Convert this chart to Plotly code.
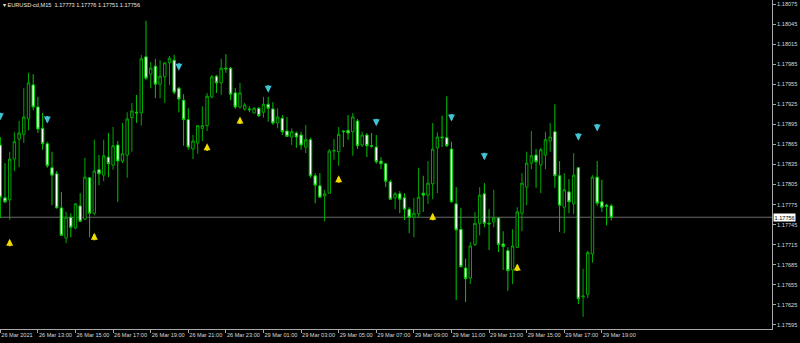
import datetime as dt
import plotly.graph_objects as go

# ---------------- data (EURUSD-cd, M15) ----------------
opens = [1.17864, 1.17785, 1.17782, 1.17843, 1.17873, 1.17880, 1.17903, 1.17954, 1.17921, 1.17889,
         1.17866, 1.17830, 1.17821, 1.17770, 1.17725, 1.17756, 1.17740, 1.17773, 1.17753, 1.17815,
         1.17762, 1.17827, 1.17819, 1.17846, 1.17834, 1.17864, 1.17840, 1.17849, 1.17905, 1.17913,
         1.17912, 1.17996, 1.17970, 1.17982, 1.17955, 1.17966, 1.17987, 1.17991, 1.17949, 1.17931,
         1.17902, 1.17858, 1.17867, 1.17889, 1.17893, 1.17936, 1.17967, 1.17957, 1.17979, 1.17979,
         1.17942, 1.17921, 1.17918, 1.17918, 1.17912, 1.17919, 1.17913, 1.17925, 1.17918, 1.17897,
         1.17904, 1.17885, 1.17876, 1.17882, 1.17879, 1.17861, 1.17872, 1.17818, 1.17803, 1.17788,
         1.17792, 1.17855, 1.17854, 1.17885, 1.17886, 1.17884, 1.17900, 1.17864, 1.17879, 1.17863,
         1.17861, 1.17840, 1.17836, 1.17809, 1.17785, 1.17791, 1.17785, 1.17768, 1.17756, 1.17761,
         1.17792, 1.17789, 1.17806, 1.17860, 1.17876, 1.17875, 1.17858, 1.17776, 1.17738, 1.17680,
         1.17665, 1.17715, 1.17747, 1.17791, 1.17747, 1.17749, 1.17755, 1.17716, 1.17706, 1.17677,
         1.17711, 1.17762, 1.17801, 1.17837, 1.17849, 1.17834, 1.17849, 1.17870, 1.17884, 1.17818,
         1.17771, 1.17794, 1.17776, 1.17830, 1.17637, 1.17641, 1.17701, 1.17816, 1.17779, 1.17774,
         1.17773]
highs = [1.17876, 1.17837, 1.17854, 1.17883, 1.17900, 1.17949, 1.17972, 1.17970, 1.17936, 1.17912,
         1.17869, 1.17854, 1.17825, 1.17794, 1.17764, 1.17762, 1.17777, 1.17792, 1.17845, 1.17816,
         1.17872, 1.17849, 1.17872, 1.17882, 1.17891, 1.17870, 1.17897, 1.17913, 1.17927, 1.17939,
         1.17999, 1.18050, 1.17988, 1.17993, 1.17991, 1.17988, 1.17997, 1.17999, 1.17951, 1.17940,
         1.17919, 1.17879, 1.17894, 1.17922, 1.17942, 1.17969, 1.17969, 1.17993, 1.18000, 1.17981,
         1.17949, 1.17957, 1.17927, 1.17922, 1.17921, 1.17921, 1.17936, 1.17936, 1.17928, 1.17919,
         1.17909, 1.17906, 1.17889, 1.17884, 1.17884, 1.17894, 1.17875, 1.17822, 1.17822, 1.17797,
         1.17858, 1.17873, 1.17891, 1.17886, 1.17909, 1.17912, 1.17903, 1.17884, 1.17882, 1.17882,
         1.17879, 1.17846, 1.17837, 1.17812, 1.17794, 1.17795, 1.17792, 1.17771, 1.17785, 1.17830,
         1.17818, 1.17840, 1.17897, 1.17883, 1.17908, 1.17937, 1.17869, 1.17801, 1.17770, 1.17694,
         1.17719, 1.17764, 1.17801, 1.17807, 1.17768, 1.17797, 1.17756, 1.17735, 1.17711, 1.17738,
         1.17771, 1.17822, 1.17854, 1.17885, 1.17858, 1.17860, 1.17884, 1.17897, 1.17925, 1.17840,
         1.17822, 1.17813, 1.17852, 1.17831, 1.17679, 1.17706, 1.17819, 1.17840, 1.17812, 1.17776,
         1.17776]
lows = [1.17755, 1.17777, 1.17752, 1.17825, 1.17831, 1.17867, 1.17886, 1.17916, 1.17882, 1.17857,
        1.17830, 1.17774, 1.17769, 1.17728, 1.17717, 1.17726, 1.17738, 1.17749, 1.17752, 1.17726,
        1.17759, 1.17804, 1.17810, 1.17816, 1.17827, 1.17779, 1.17837, 1.17815, 1.17854, 1.17897,
        1.17893, 1.17961, 1.17949, 1.17934, 1.17934, 1.17927, 1.17954, 1.17940, 1.17913, 1.17863,
        1.17857, 1.17843, 1.17851, 1.17870, 1.17885, 1.17934, 1.17942, 1.17939, 1.17972, 1.17931,
        1.17918, 1.17919, 1.17915, 1.17913, 1.17911, 1.17906, 1.17905, 1.17899, 1.17894, 1.17889,
        1.17879, 1.17876, 1.17864, 1.17860, 1.17857, 1.17852, 1.17815, 1.17777, 1.17785, 1.17750,
        1.17792, 1.17842, 1.17833, 1.17861, 1.17872, 1.17848, 1.17858, 1.17861, 1.17846, 1.17860,
        1.17836, 1.17828, 1.17801, 1.17782, 1.17768, 1.17762, 1.17752, 1.17732, 1.17726, 1.17756,
        1.17764, 1.17776, 1.17783, 1.17792, 1.17861, 1.17861, 1.17778, 1.17632, 1.17681, 1.17629,
        1.17656, 1.17713, 1.17729, 1.17741, 1.17707, 1.17741, 1.17704, 1.17677, 1.17646, 1.17656,
        1.17710, 1.17735, 1.17774, 1.17828, 1.17800, 1.17792, 1.17828, 1.17854, 1.17800, 1.17734,
        1.17732, 1.17762, 1.17761, 1.17626, 1.17607, 1.17635, 1.17688, 1.17773, 1.17764, 1.17744,
        1.17751]
closes = [1.17786, 1.17779, 1.17843, 1.17869, 1.17882, 1.17906, 1.17957, 1.17921, 1.17888, 1.17866,
          1.17833, 1.17819, 1.17770, 1.17729, 1.17756, 1.17741, 1.17776, 1.17750, 1.17816, 1.17762,
          1.17825, 1.17821, 1.17848, 1.17836, 1.17863, 1.17840, 1.17851, 1.17903, 1.17915, 1.17912,
          1.17993, 1.17964, 1.17979, 1.17955, 1.17967, 1.17987, 1.17994, 1.17943, 1.17933, 1.17902,
          1.17861, 1.17870, 1.17893, 1.17893, 1.17937, 1.17966, 1.17957, 1.17979, 1.17978, 1.17940,
          1.17921, 1.17942, 1.17924, 1.17917, 1.17919, 1.17908, 1.17925, 1.17919, 1.17897, 1.17906,
          1.17884, 1.17877, 1.17884, 1.17876, 1.17864, 1.17872, 1.17818, 1.17804, 1.17786, 1.17791,
          1.17855, 1.17856, 1.17880, 1.17884, 1.17882, 1.17906, 1.17863, 1.17879, 1.17863, 1.17862,
          1.17839, 1.17836, 1.17810, 1.17783, 1.17791, 1.17783, 1.17768, 1.17756, 1.17762, 1.17786,
          1.17789, 1.17807, 1.17858, 1.17876, 1.17875, 1.17863, 1.17779, 1.17737, 1.17682, 1.17664,
          1.17713, 1.17747, 1.17789, 1.17747, 1.17746, 1.17755, 1.17715, 1.17712, 1.17676, 1.17713,
          1.17764, 1.17807, 1.17837, 1.17848, 1.17839, 1.17857, 1.17872, 1.17876, 1.17818, 1.17774,
          1.17797, 1.17779, 1.17819, 1.17634, 1.17638, 1.17703, 1.17816, 1.17777, 1.17771, 1.17772,
          1.17756]

# signal arrows (bar index, price)
sell_idx = [0, 10, 38, 57, 80, 96, 103, 123, 127]
sell_price = [1.17908, 1.17903, 1.17982, 1.17949, 1.17899, 1.17906, 1.17848, 1.17877, 1.17891]
buy_idx = [2, 20, 44, 51, 72, 92, 110]
buy_price = [1.17717, 1.17726, 1.17860, 1.17900, 1.17812, 1.17756, 1.17680]

# axis ticks
price_ticks = [1.18075, 1.18045, 1.18015, 1.17985, 1.17955, 1.17925, 1.17895, 1.17865, 1.17835,
               1.17805, 1.17775, 1.17745, 1.17715, 1.17685, 1.17655, 1.17625, 1.17595]
tick_times = ["2021-03-26 11:00", "2021-03-26 13:00", "2021-03-26 15:00", "2021-03-26 17:00",
              "2021-03-26 19:00", "2021-03-26 21:00", "2021-03-26 23:00", "2021-03-29 01:00",
              "2021-03-29 03:00", "2021-03-29 05:00", "2021-03-29 07:00", "2021-03-29 09:00",
              "2021-03-29 11:00", "2021-03-29 13:00", "2021-03-29 15:00", "2021-03-29 17:00",
              "2021-03-29 19:00"]
tick_labels = ["26 Mar 2021", "26 Mar 13:00", "26 Mar 15:00", "26 Mar 17:00", "26 Mar 19:00",
               "26 Mar 21:00", "26 Mar 23:00", "29 Mar 01:00", "29 Mar 03:00", "29 Mar 05:00",
               "29 Mar 07:00", "29 Mar 09:00", "29 Mar 11:00", "29 Mar 13:00", "29 Mar 15:00",
               "29 Mar 17:00", "29 Mar 19:00"]

# bar times (15 min bars, weekend skipped)
times = []
t = dt.datetime(2021, 3, 26, 11, 0)
while len(times) < len(closes):
    if t.weekday() < 5:
        times.append(t.strftime("%Y-%m-%d %H:%M"))
    t += dt.timedelta(minutes=15)
xs = list(range(len(closes)))
tickvals = [times.index(s) for s in tick_times]

FONT = "Liberation Sans"
LBL = "#d8d8d8"
AXC = "#a8a8a8"

fig = go.Figure()
fig.add_trace(go.Candlestick(
    x=xs, open=opens, high=highs, low=lows, close=closes,
    increasing=dict(line=dict(color="#00a800", width=1), fillcolor="#000000"),
    decreasing=dict(line=dict(color="#00c800", width=1), fillcolor="#ffffff"),
    whiskerwidth=0, showlegend=False, hoverinfo="skip",
))

annotations = []
for i, p in zip(buy_idx, buy_price):
    annotations.append(dict(x=i, y=p, xref="x", yref="y", text="", showarrow=True,
                            ax=0, ay=9, arrowhead=2, arrowsize=0.7, arrowwidth=2,
                            arrowcolor="#f0dc00", yshift=4.5, standoff=0))
for i, p in zip(sell_idx, sell_price):
    annotations.append(dict(x=i, y=p, xref="x", yref="y", text="", showarrow=True,
                            ax=0, ay=-9, arrowhead=2, arrowsize=0.7, arrowwidth=2,
                            arrowcolor="#40c4d4", yshift=-4.5, standoff=0))

last = len(closes) - 1
header = ("\u25be EURUSD-cd,M15\u00a0\u00a0%.5f %.5f %.5f %.5f"
          % (opens[last], highs[last], lows[last], closes[last]))
annotations.append(dict(x=0, y=1, xref="paper", yref="paper", xanchor="left", yanchor="top",
                        text=header, showarrow=False, xshift=1, yshift=0,
                        font=dict(family=FONT, size=5.6, color="#e8e8e8")))
annotations.append(dict(x=1, y=closes[last], xref="paper", yref="y", xanchor="left",
                        yanchor="middle", text="%.5f" % closes[last], showarrow=False,
                        xshift=1, bgcolor="#ffffff", borderpad=0.5,
                        font=dict(family=FONT, size=5.6, color="#000000")))

fig.update_layout(
    width=800, height=343, autosize=False,
    margin=dict(l=0, r=28, t=0, b=14, pad=0),
    paper_bgcolor="#000000", plot_bgcolor="#000000",
    boxgap=0.25,
    showlegend=False,
    annotations=annotations,
    shapes=[dict(type="line", xref="paper", x0=0, x1=1, yref="y",
                 y0=closes[last], y1=closes[last],
                 line=dict(color="#6a6a6a", width=1), layer="below")],
    xaxis=dict(range=[-0.064, 164.2], tickvals=tickvals, ticktext=tick_labels,
               showgrid=False, zeroline=False, showline=True, linecolor=AXC, linewidth=1,
               ticks="outside", ticklen=3, tickcolor=AXC, ticklabelposition="outside right",
               tickangle=0, automargin=False,
               tickfont=dict(family=FONT, size=5.6, color=LBL),
               rangeslider=dict(visible=False), fixedrange=True),
    yaxis=dict(range=[1.175888, 1.18081], side="right", tickvals=price_ticks,
               ticktext=["%.5f" % v for v in price_ticks], automargin=False,
               showgrid=False, zeroline=False, showline=True, linecolor=AXC, linewidth=1,
               ticks="outside", ticklen=3, tickcolor=AXC,
               tickfont=dict(family=FONT, size=5.6, color=LBL), fixedrange=True),
)

fig.write_html("out.html")
